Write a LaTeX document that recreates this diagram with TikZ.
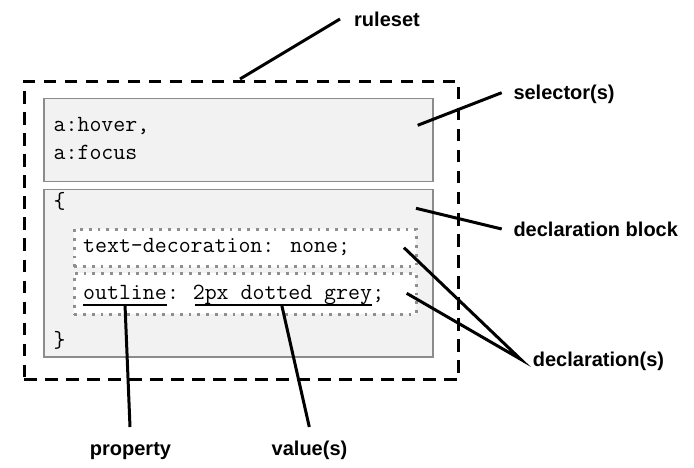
\documentclass[tikz,border=0pt]{standalone}
\usepackage{fontspec}
\setmainfont{Liberation Sans}
\usetikzlibrary{calc}
\definecolor{boxfill}{HTML}{F2F2F2}
\definecolor{boxline}{HTML}{8C8C8C}
\definecolor{dotline}{HTML}{8F8F8F}
\tikzset{
  lbl/.style={font=\fontsize{20}{24}\selectfont\bfseries, inner sep=0pt, anchor=base west},
  code/.style={font=\fontsize{23.2}{26}\selectfont\ttfamily, inner sep=0pt, anchor=base west},
  graybox/.style={draw=boxline, fill=boxfill, line width=1.5pt, inner sep=0pt, anchor=north west},
  dotbox/.style={draw=dotline, fill=white, line width=2.8pt, dash pattern=on 2.8pt off 6pt, inner sep=0pt, anchor=north west},
  outerbox/.style={draw=black, line width=3pt, dash pattern=on 12.5pt off 8.5pt, inner sep=0pt, anchor=north west},
  conn/.style={draw=black, line width=3pt},
  uline/.style={draw=black, line width=1.5pt}
}
\begin{document}
\begin{tikzpicture}[x=1pt,y=-1pt]
\useasboundingbox (0,0) rectangle (694,468);
% boxes
\node[outerbox, minimum width=434pt, minimum height=298pt] (outer) at (22.7,80) {};
\node[graybox, minimum width=389pt, minimum height=83pt] (sel) at (43,98) {};
\node[graybox, minimum width=389pt, minimum height=167pt] (block) at (43,189) {};
\node[dotbox, minimum width=342pt, minimum height=37.5pt] (decl1) at (72.7,227.7) {};
\node[dotbox, minimum width=342pt, minimum height=41pt] (decl2) at (72.7,271.7) {};
% code text
\node[code] (hover) at (53.5,131.7) {a:hover,};
\node[code] (focus) at (53.5,159.3) {a:focus};
\node[code] (open) at (53.5,209) {\{};
\node[code] (close) at (53.5,347) {\}};
\node[code] (td) at (83,252.7) {text-decoration: none;};
\node[code] (prop) at (83,299.3) {outline};
\node[code] (colon) at (prop.base east) {:};
\node[code] (val) at ($(prop.base west)+(9*12.18,0)$) {2px dotted grey};
\node[code] (semi) at (val.base east) {;};
\draw[uline] ([yshift=-5.7pt]prop.base west) -- ([yshift=-5.7pt]prop.base east);
\draw[uline] ([xshift=2pt,yshift=-5.7pt]val.base west) -- ([yshift=-5.7pt]val.base east);
% labels
\node[lbl] (ruleset) at (354,26.7) {ruleset};
\node[lbl] (selector) at (513.3,100) {selector(s)};
\node[lbl] (dblock) at (513.3,236.7) {declaration block};
\node[lbl] (decls) at (532.7,366.7) {declaration(s)};
\node[lbl, anchor=base] (property) at (130.5,455) {property};
\node[lbl, anchor=base] (values) at (309.5,455) {value(s)};
% connector end points
\coordinate (rsA) at (240,79);
\coordinate (rsB) at (340,19);
\coordinate (selA) at (417.7,125.3);
\coordinate (selB) at (501.7,92.7);
\coordinate (dbA) at (416,208.3);
\coordinate (dbB) at (501.7,229);
\coordinate (d1A) at (404,247.7);
\coordinate (d2A) at (406.7,293.3);
\coordinate (dB) at (520.7,359.3);
\coordinate (pA) at ([yshift=-5.7pt]prop.base);
\coordinate (pB) at (130,427);
\coordinate (vA) at (281.7,305);
\coordinate (vB) at (309.3,427);
% connectors
\draw[conn] (rsA) -- (rsB);
\draw[conn] (selA) -- (selB);
\draw[conn] (dbA) -- (dbB);
\draw[conn] (d1A) -- (dB) -- (d2A);
\draw[conn] (pA) -- (pB);
\draw[conn] (vA) -- (vB);
\end{tikzpicture}
\end{document}
